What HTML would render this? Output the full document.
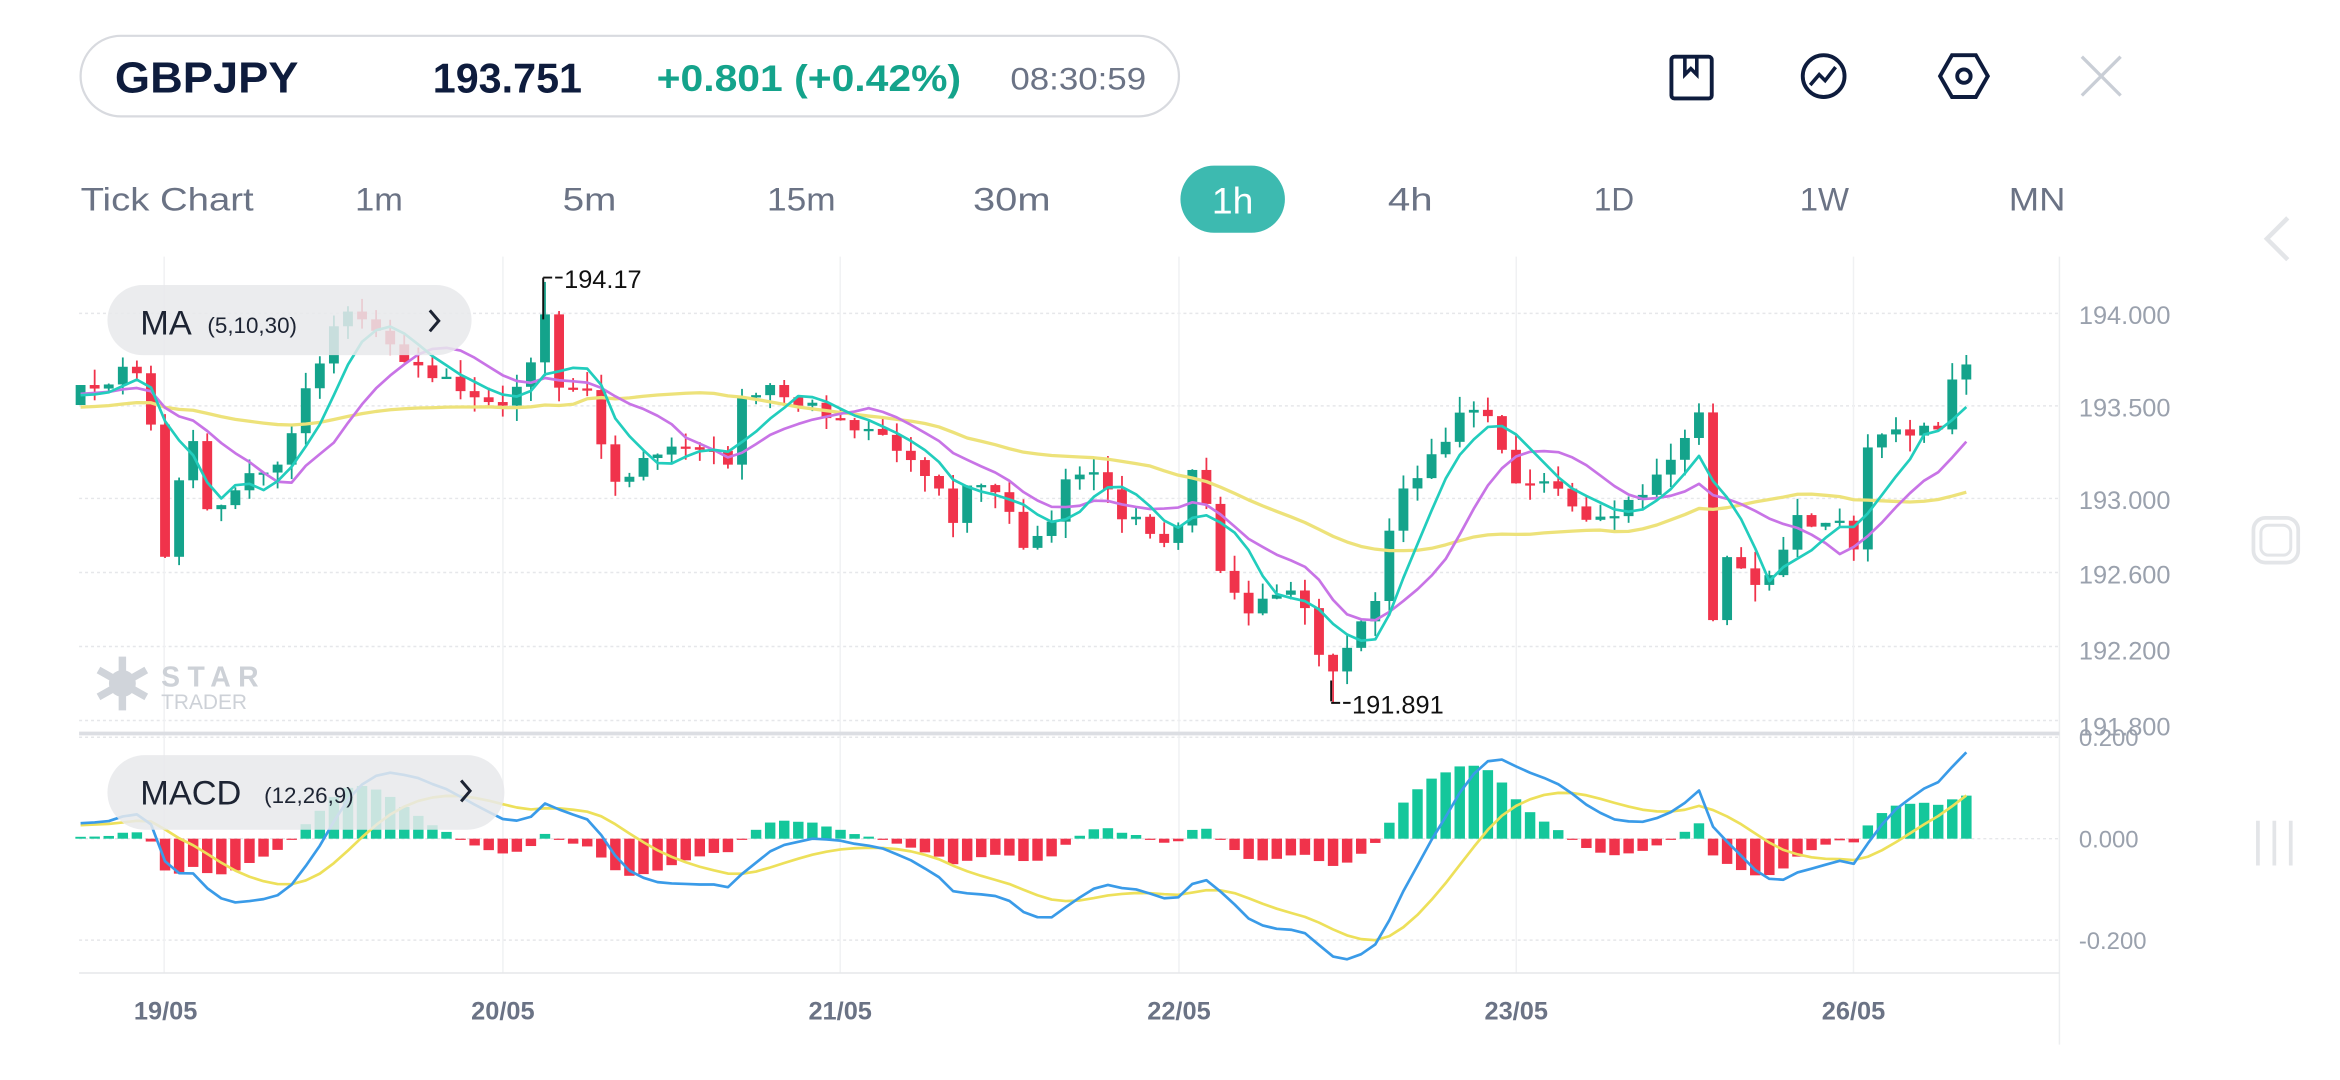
<!DOCTYPE html>
<html><head><meta charset="utf-8">
<style>
html,body{margin:0;padding:0;background:#fff;}
svg{display:block;}
text{font-family:"Liberation Sans",sans-serif;}
</style></head>
<body>
<svg id="s" width="2340" height="1080" viewBox="0 0 1568 723.7" preserveAspectRatio="none" xmlns="http://www.w3.org/2000/svg">
<rect width="1568" height="724" fill="#fff"/>
<rect x="54" y="24" width="736" height="54" rx="27" fill="#fff" stroke="#d8dadf" stroke-width="1.5"/>
<g lengthAdjust="spacingAndGlyphs">
<text x="77" y="62" font-size="29" font-weight="bold" fill="#0e1c3d" textLength="123" lengthAdjust="spacingAndGlyphs">GBPJPY</text>
<text x="290" y="62" font-size="28" font-weight="bold" fill="#0e1c3d" textLength="100" lengthAdjust="spacingAndGlyphs">193.751</text>
<text x="440" y="61" font-size="25" font-weight="bold" fill="#14a38b" textLength="204" lengthAdjust="spacingAndGlyphs">+0.801 (+0.42%)</text>
<text x="677" y="60" font-size="21" fill="#6b7385" textLength="91" lengthAdjust="spacingAndGlyphs">08:30:59</text>
</g>
<rect x="1120" y="38" width="27" height="28" rx="2" fill="none" stroke="#0e1c3d" stroke-width="2.6"/>
<path d="M1129 38 v12 l4 -4 l4 4 v-12" fill="none" stroke="#0e1c3d" stroke-width="2.4"/>
<circle cx="1222" cy="51" r="14" fill="none" stroke="#0e1c3d" stroke-width="2.6"/>
<path d="M1213 57 l6 -7 l4 4 l7 -9" fill="none" stroke="#0e1c3d" stroke-width="2.4"/>
<path d="M1308 37 h16 l8 14 l-8 14 h-16 l-8 -14 z" fill="none" stroke="#0e1c3d" stroke-width="2.6"/>
<circle cx="1316" cy="51" r="4.5" fill="none" stroke="#0e1c3d" stroke-width="2.6"/>
<path d="M1395 38 l26 26 M1421 38 l-26 26" stroke="#c9ced6" stroke-width="2.2"/>
<g font-size="22" fill="#6b7385">
<text x="54" y="141" textLength="116" lengthAdjust="spacingAndGlyphs">Tick Chart</text>
<text x="238" y="141" textLength="32" lengthAdjust="spacingAndGlyphs">1m</text>
<text x="377" y="141" textLength="36" lengthAdjust="spacingAndGlyphs">5m</text>
<text x="514" y="141" textLength="46" lengthAdjust="spacingAndGlyphs">15m</text>
<text x="652" y="141" textLength="52" lengthAdjust="spacingAndGlyphs">30m</text>
<text x="930" y="141" textLength="30" lengthAdjust="spacingAndGlyphs">4h</text>
<text x="1068" y="141" textLength="27" lengthAdjust="spacingAndGlyphs">1D</text>
<text x="1206" y="141" textLength="33" lengthAdjust="spacingAndGlyphs">1W</text>
<text x="1346" y="141" textLength="38" lengthAdjust="spacingAndGlyphs">MN</text>
</g>
<rect x="791" y="111" width="70" height="45" rx="22.5" fill="#3dbab0"/>
<text x="826" y="143" font-size="25" fill="#fff" text-anchor="middle">1h</text>
<path d="M1533 146 l-14 14 l14 14" fill="none" stroke="#e3e5e8" stroke-width="3"/>
<rect x="1510" y="347" width="30" height="30" rx="8" fill="none" stroke="#e3e5e8" stroke-width="2.5"/>
<rect x="1515" y="352" width="20" height="20" rx="5" fill="none" stroke="#e3e5e8" stroke-width="2"/>
<path d="M1513 550 v30 M1524 550 v30 M1535 550 v30" stroke="#e3e5e8" stroke-width="2.5"/>
<g id="chart"></g>
</svg>
<script>
(function(){
const g=document.getElementById('chart');
let out='';
const yP=p=>210+(194-p)*124;
const yM=v=>562-v*340;
[194,193.5,193,192.6,192.2,191.8].forEach(p=>{out+=`<line x1="53" x2="1380" y1="${yP(p)}" y2="${yP(p)}" stroke="#e6e7ea" stroke-width="1" stroke-dasharray="2,2"/>`;});
[0.2,0,-0.2].forEach(v=>{out+=`<line x1="53" x2="1380" y1="${yM(v)}" y2="${yM(v)}" stroke="#e6e7ea" stroke-width="1" stroke-dasharray="2,2"/>`;});
[110,337,563,790,1016,1242].forEach(x=>{out+=`<line x1="${x}" x2="${x}" y1="172" y2="652" stroke="#f0f1f3" stroke-width="1"/>`;});
out+=`<line x1="1380" x2="1380" y1="172" y2="700" stroke="#eceef0" stroke-width="1"/>`;
out+=`<line x1="53" x2="1380" y1="652" y2="652" stroke="#e6e7ea" stroke-width="1"/>`;
out+=`<line x1="53" x2="1380" y1="491.5" y2="491.5" stroke="#dcdee3" stroke-width="2.5"/>`;
const lab=[["194.000",210],["193.500",272],["193.000",334],["192.600",384],["192.200",435],["191.800",486]];
lab.forEach(l=>{out+=`<text x="1393" y="${l[1]+7}" font-size="17" fill="#9aa1ad">${l[0]}</text>`;});
[["0.200",494],["0.000",562],["-0.200",630]].forEach(l=>{out+=`<text x="1393" y="${l[1]+6}" font-size="16" fill="#9aa1ad">${l[0]}</text>`;});
[["19/05",111],["20/05",337],["21/05",563],["22/05",790],["23/05",1016],["26/05",1242]].forEach(l=>{out+=`<text x="${l[1]}" y="683" font-size="17" font-weight="bold" fill="#6b7385" text-anchor="middle">${l[0]}</text>`;});
out+=`<g fill="#d0d4da"><circle cx="82" cy="458" r="9"/><path d="M82 440 v36 M66 449 l32 18 M98 449 l-32 18" stroke="#d0d4da" stroke-width="5"/></g>`;
out+=`<text x="108" y="460" font-size="19" font-weight="bold" fill="#cdd1d7" letter-spacing="5">STAR</text>`;
out+=`<text x="108" y="475" font-size="14" fill="#cdd1d7">TRADER</text>`;
const W=[[54,258],[65,262],[90,242],[100,275],[110,375],[120,322],[130,295],[140,345],[150,340],[160,322],[190,310],[205,258],[215,245],[225,212],[240,210],[260,230],[275,245],[300,255],[320,268],[335,272],[350,258],[365,212],[375,260],[395,262],[410,327],[430,310],[445,300],[470,300],[490,310],[495,270],[515,258],[530,270],[545,272],[565,285],[590,290],[610,310],[625,320],[638,350],[650,322],[670,330],[685,365],[700,360],[715,320],[735,315],[750,345],[765,350],[785,370],[800,310],[810,345],[820,390],[835,410],[850,400],[865,395],[875,410],[885,440],[895,455],[905,425],[920,410],[935,335],[950,318],[965,300],[980,275],[995,273],[1005,300],[1020,330],[1035,320],[1050,335],[1065,350],[1080,345],[1095,335],[1110,320],[1125,300],[1140,275],[1145,425],[1160,365],[1175,395],[1190,380],[1205,345],[1220,355],[1235,345],[1245,380],[1250,300],[1265,288],[1280,290],[1300,285],[1310,250],[1317,243]];
function interp(x){for(let i=0;i<W.length-1;i++){if(x>=W[i][0]&&x<=W[i+1][0]){const t=(x-W[i][0])/(W[i+1][0]-W[i][0]);return W[i][1]+t*(W[i+1][1]-W[i][1]);}}return W[W.length-1][1];}
const sp=9.43,N=Math.round((1317-54)/sp)+1;
const H=40;const all=[];
for(let i=0;i<H;i++){let b=i<28?193.45:193.45+(i-28)*0.03-Math.max(0,i-34)*0.06;all.push(b+0.03*Math.sin(i*0.7));}
const xs=[];
for(let i=0;i<N;i++){const x=54+i*sp;xs.push(x);all.push(194-(interp(x)-210)/124+0.02*Math.sin(i*2.7));}
function sma(n,idx){let s=0;for(let k=idx-n+1;k<=idx;k++)s+=all[k];return s/n;}
function ema(arr,n){const a=2/(n+1);const r=[arr[0]];for(let i=1;i<arr.length;i++)r.push(a*arr[i]+(1-a)*r[i-1]);return r;}
const e12=ema(all,12),e26=ema(all,26);const macd=all.map((v,i)=>e12[i]-e26[i]);const sig=ema(macd,9);
let cs='';
for(let i=0;i<N;i++){
 const x=xs[i];const c=all[H+i],o=all[H+i-1];
 const r1=Math.abs(Math.sin(i*12.9898)*43758.5453)%1,r2=Math.abs(Math.sin(i*78.233)*12345.678)%1;
 let hi=Math.max(o,c)+r1*0.09,lo=Math.min(o,c)-r2*0.09;
 if(Math.abs(x-365)<5)hi=194.17;
 if(Math.abs(x-895)<5)lo=191.891;
 const up=c>=o;const col=up?'#14a38b':'#f0334b';
 let yt=yP(Math.max(o,c)),yb=yP(Math.min(o,c));if(yb-yt<1.5){yb=yt+1.5;}
 cs+=`<line x1="${x}" x2="${x}" y1="${yP(hi)}" y2="${yP(lo)}" stroke="${col}" stroke-width="1.2"/>`;
 cs+=`<rect x="${x-3.3}" y="${yt}" width="6.6" height="${yb-yt}" fill="${col}"/>`;
}
out+=cs;
function line(fn,col,w){let d='';for(let i=0;i<N;i++)d+=(i?'L':'M')+xs[i].toFixed(1)+' '+fn(i).toFixed(1);return `<path d="${d}" fill="none" stroke="${col}" stroke-width="${w}" stroke-linejoin="round"/>`;}
out+=line(i=>yP(sma(30,H+i)),'#ede27a',2.2);
out+=line(i=>yP(sma(10,H+i)),'#c874e6',1.8);
out+=line(i=>yP(sma(5,H+i)),'#22cdbd',1.8);
out+=`<path d="M364 186 v28 M364 186 h6 M372 186 h5" stroke="#111" stroke-width="1.3"/><text x="378" y="193" font-size="17" fill="#111">194.17</text>`;
out+=`<path d="M892 470 v-14 M892 471 h6 M900 471 h5" stroke="#111" stroke-width="1.3"/><text x="906" y="478" font-size="17" fill="#111">191.891</text>`;
let hb='';
for(let i=0;i<N;i++){const v=1.0*(macd[H+i]-sig[H+i]);const y0=yM(0),y1=yM(Math.max(-0.2,Math.min(0.2,v)));const col=v>=0?'#14c79b':'#f0334b';hb+=`<rect x="${xs[i]-3.5}" y="${Math.min(y0,y1)}" width="7" height="${Math.max(0.8,Math.abs(y1-y0))}" fill="${col}"/>`;}
out+=hb;
out+=line(i=>yM(sig[H+i]),'#ede05a',1.8);
out+=line(i=>yM(macd[H+i]),'#3a9be8',1.8);
out+=`<rect x="72" y="191" width="244" height="47" rx="23.5" fill="#e8e9eb" fill-opacity="0.85"/>`;
out+=`<text x="94" y="224" font-size="23" fill="#1d2433">MA</text><text x="139" y="223" font-size="15" fill="#1d2433">(5,10,30)</text>`;
out+=`<path d="M288 208 l6 7 l-6 7" fill="none" stroke="#1d2433" stroke-width="2"/>`;
out+=`<rect x="72" y="506" width="266" height="50" rx="25" fill="#e8e9eb" fill-opacity="0.85"/>`;
out+=`<text x="94" y="539" font-size="23" fill="#1d2433">MACD</text><text x="177" y="538" font-size="15" fill="#1d2433">(12,26,9)</text>`;
out+=`<path d="M309 523 l6 7 l-6 7" fill="none" stroke="#1d2433" stroke-width="2"/>`;
g.innerHTML=out;
})();
</script>
</body></html>
